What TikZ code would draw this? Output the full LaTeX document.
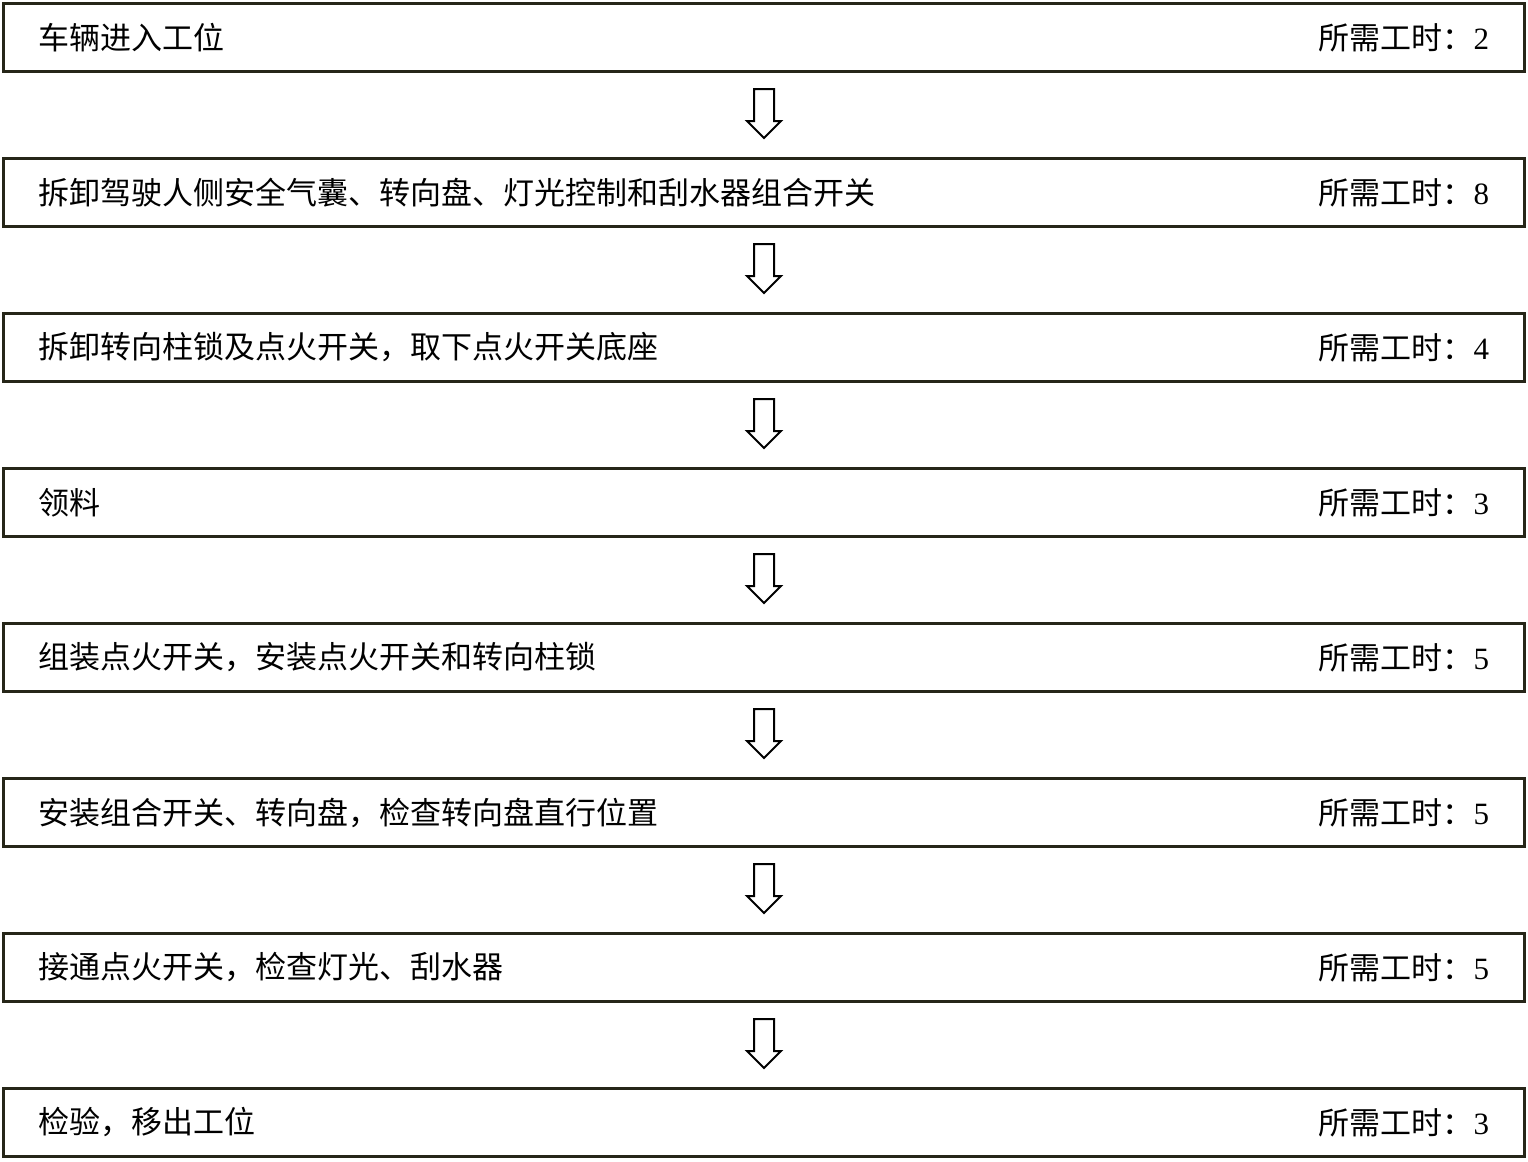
\documentclass[tikz,border=0pt]{standalone}
\usepackage{fontspec}
\setmainfont{Liberation Serif}
\newfontfamily\cjk{Noto Sans CJK SC}
\usepackage{tikz}
\usetikzlibrary{positioning, calc}
\definecolor{boxline}{RGB}{38,38,24}
\newcommand\rowstep{77.5pt}
\tikzset{stepbox/.style={rectangle, draw=boxline, line width=1.5pt, minimum height=34pt, minimum width=760.5pt, inner sep=0pt}}
\tikzset{steptext/.style={font=\cjk\fontsize{15.5}{18}\selectfont, inner sep=0pt}}
\tikzset{downarrow/.pic={\draw[line width=1pt, fill=white] (-5pt,12.25pt) -- (5pt,12.25pt) -- (5pt,-3.75pt) -- (8.5pt,-3.75pt) -- (0,-12.25pt) -- (-8.5pt,-3.75pt) -- (-5pt,-3.75pt) -- cycle;}}

\begin{document}
\begin{tikzpicture}
\useasboundingbox (0,0) rectangle (764pt,-581pt);
\foreach \task/\hrs [count=\i from 0] in {车辆进入工位/2, 拆卸驾驶人侧安全气囊、转向盘、灯光控制和刮水器组合开关/8, 拆卸转向柱锁及点火开关，取下点火开关底座/4, 领料/3, 组装点火开关，安装点火开关和转向柱锁/5, 安装组合开关、转向盘，检查转向盘直行位置/5, 接通点火开关，检查灯光、刮水器/5, 检验，移出工位/3} {
	\node[stepbox] (box\i) at (382pt,-18.75pt-\i*\rowstep) {};
	\node[steptext, anchor=west] (task\i) at ([xshift=18.25pt]box\i.west) {\task};
	\node[steptext, anchor=east] (time\i) at ([xshift=-18.25pt]box\i.east) {所需工时：{\rmfamily\hrs}};
}
\foreach \i [count=\j from 0] in {1,...,7} {
	\coordinate (mid\i) at ($(box\j.south)!0.5!(box\i.north)$);
	\pic at ([yshift=0.75pt]mid\i) {downarrow};
}
\end{tikzpicture}
\end{document}
